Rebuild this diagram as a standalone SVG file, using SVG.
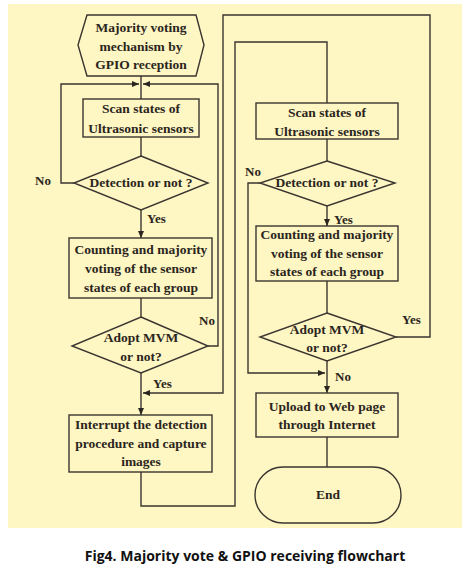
<svg xmlns="http://www.w3.org/2000/svg" width="469" height="577" viewBox="0 0 469 577">
<style>
.bg{fill:#fef6c3}
.n{fill:none;stroke:#3a3530;stroke-width:1.4}
.t{font-family:"Liberation Serif","Times New Roman",serif;font-weight:bold;font-size:13.5px;fill:#2a2520;text-anchor:middle}
.l{font-family:"Liberation Serif","Times New Roman",serif;font-weight:bold;font-size:13px;fill:#2a2520}
.c{fill:none;stroke:#3a3530;stroke-width:1.4}
.cap{font-family:"Open Sans","Liberation Sans",sans-serif;font-weight:bold;font-size:14px;fill:#111;text-anchor:middle}
</style>
<defs>
<marker id="ar" markerUnits="userSpaceOnUse" markerWidth="8" markerHeight="8" viewBox="0 0 8 8" refX="7" refY="4" orient="auto">
<path d="M0,1 L7,4 L0,7 Z" fill="#2a2520"/>
</marker>
</defs>
<rect class="bg" x="8" y="4" width="454" height="524"/>

<g id="connectors">
<path class="c" d="M141,76 V99"/>
<path class="c" d="M74,183 H61 V84 H139" marker-end="url(#ar)"/>
<path class="c" d="M208,346 H218 V84 H143" marker-end="url(#ar)"/>
<path class="c" d="M141,137 V156"/>
<path class="c" d="M141,210 V238" marker-end="url(#ar)"/>
<path class="c" d="M141,298 V317"/>
<path class="c" d="M141,373 V415" marker-end="url(#ar)"/>
<path class="c" d="M396,337 H430 V15 H223 V393 H143" marker-end="url(#ar)"/>
<path class="c" d="M141,472 V506 H235 V42 H327 V103"/>
<path class="c" d="M327,139 V161"/>
<path class="c" d="M327,206 V226" marker-end="url(#ar)"/>
<path class="c" d="M327,281 V313"/>
<path class="c" d="M327,361 V393" marker-end="url(#ar)"/>
<path class="c" d="M260,183 H248 V373 H325" marker-end="url(#ar)"/>
<path class="c" d="M327,437 V467"/>
<text class="l" x="35" y="185">No</text>
<text class="l" x="147" y="223">Yes</text>
<text class="l" x="199" y="325">No</text>
<text class="l" x="153" y="388">Yes</text>
<text class="l" x="245" y="176">No</text>
<text class="l" x="334" y="224">Yes</text>
<text class="l" x="402" y="324">Yes</text>
<text class="l" x="335" y="381">No</text>
</g>

<g id="start">
<path class="n" d="M87,15 H196 L204,45 L196,76 H87 L78,45 Z"/>
<text class="t" x="141" y="32">Majority voting</text>
<text class="t" x="141" y="51">mechanism by</text>
<text class="t" x="141" y="69">GPIO reception</text>
</g>
<g id="scan1">
<rect class="n" x="83" y="99" width="116" height="38"/>
<text class="t" x="141" y="113">Scan states of</text>
<text class="t" x="141" y="133">Ultrasonic sensors</text>
</g>
<g id="detect1">
<path class="n" d="M141,156 L208,183 L141,210 L74,183 Z"/>
<text class="t" x="141" y="187">Detection or not ?</text>
</g>
<g id="count1">
<rect class="n" x="69" y="238" width="143" height="60"/>
<text class="t" x="141" y="254">Counting and majority</text>
<text class="t" x="141" y="273">voting of the sensor</text>
<text class="t" x="141" y="292">states of each group</text>
</g>
<g id="adopt1">
<path class="n" d="M141,317 L208,346 L141,373 L72,346 Z"/>
<text class="t" x="141" y="342">Adopt MVM</text>
<text class="t" x="141" y="361">or not?</text>
</g>
<g id="interrupt">
<rect class="n" x="69" y="415" width="143" height="57"/>
<text class="t" x="141" y="429">Interrupt the detection</text>
<text class="t" x="141" y="448">procedure and capture</text>
<text class="t" x="141" y="466">images</text>
</g>
<g id="scan2">
<rect class="n" x="256" y="103" width="142" height="36"/>
<text class="t" x="327" y="117">Scan states of</text>
<text class="t" x="327" y="136">Ultrasonic sensors</text>
</g>
<g id="detect2">
<path class="n" d="M327,161 L395,183 L327,206 L260,183 Z"/>
<text class="t" x="327" y="187">Detection or not ?</text>
</g>
<g id="count2">
<rect class="n" x="256" y="226" width="142" height="55"/>
<text class="t" x="327" y="239">Counting and majority</text>
<text class="t" x="327" y="258">voting of the sensor</text>
<text class="t" x="327" y="276">states of each group</text>
</g>
<g id="adopt2">
<path class="n" d="M327,313 L396,337 L327,361 L260,337 Z"/>
<text class="t" x="327" y="334">Adopt MVM</text>
<text class="t" x="327" y="352">or not?</text>
</g>
<g id="upload">
<rect class="n" x="256" y="393" width="142" height="44"/>
<text class="t" x="327" y="411">Upload to Web page</text>
<text class="t" x="327" y="429">through Internet</text>
</g>
<g id="end">
<rect class="n" x="255" y="467" width="146" height="56" rx="28" ry="28"/>
<text class="t" x="328" y="499">End</text>
</g>
<text class="cap" x="245" y="561">Fig4. Majority vote &amp; GPIO receiving flowchart</text>
</svg>
